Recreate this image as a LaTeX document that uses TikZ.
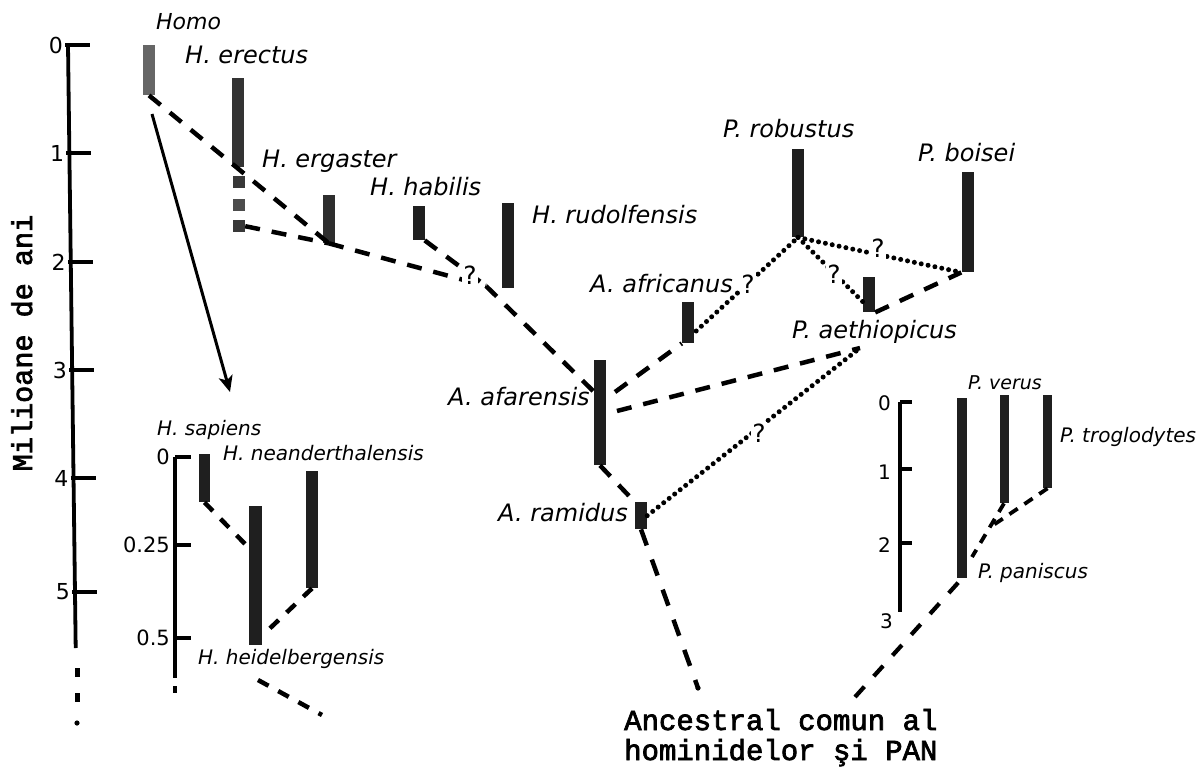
\documentclass[tikz,border=0pt]{standalone}
\usepackage{fontspec}
\setmainfont{DejaVu Sans}[ItalicFont={DejaVu Sans Oblique}]
\newfontfamily\typew{Liberation Mono}[FakeBold=2.5]
\usetikzlibrary{arrows.meta,calc}

\begin{document}
\begin{tikzpicture}[x=1pt,y=-1pt,
  bar/.style={fill=black!88, draw=none, inner sep=0pt, minimum width=12pt, anchor=north},
  lbl/.style={font=\fontsize{24}{28}\selectfont\itshape, anchor=west, inner sep=0pt},
  slbl/.style={font=\fontsize{20}{24}\selectfont\itshape, anchor=west, inner sep=0pt},
  num/.style={font=\fontsize{22}{26}\selectfont, anchor=east, inner sep=0pt},
  snum/.style={font=\fontsize{20}{24}\selectfont, anchor=east, inner sep=0pt},
  qmark/.style={font=\fontsize{25}{28}\selectfont, fill=white, inner sep=1.5pt},
  axisline/.style={line width=3.8pt},
  dashline/.style={line width=4.5pt, dash pattern=on 15pt off 12pt},
  sdash/.style={line width=3.8pt, dash pattern=on 10pt off 8pt},
  dotline/.style={line width=5pt, line cap=round, dash pattern=on 0pt off 7pt},
  tw/.style={font=\typew\fontsize{29}{30}\selectfont, inner sep=0pt}
]
\useasboundingbox (0,0) rectangle (1201,768);
\fill[white] (0,0) rectangle (1201,768);

% ---------- main time axis (millions of years) ----------
\draw[axisline] (68,45) -- (75.7,648);
\foreach \v/\y in {0/45,1/153,2/262,3/370,4/478,5/592}{
  \pgfmathsetmacro\ax{68+0.0128*(\y-45)}
  \draw[axisline] (\ax-3,\y) -- (\ax+22,\y);
  \node[num] (mt\v) at (\ax-5,\y) {\v};
}
\foreach \y in {668,693}{\fill (74.5,\y) rectangle (79.5,\y+9);}
\fill (77,723) circle (2.6pt);
\node[tw, font=\typew\fontsize{28.5}{30}\selectfont, rotate=90, anchor=base] (ylab) at (32,343) {Milioane de ani};

% ---------- Homo ----------
\node[bar, fill=black!60, minimum height=50pt] (homo) at (149,45) {};
\node[lbl, font=\fontsize{22}{26}\selectfont\itshape] (homolab) at (156,22) {Homo};
\node[bar, fill=black!80, minimum height=89pt] (erectus) at (238,78) {};
\node[lbl] (erectuslab) at (185,55) {H. erectus};
\node[bar, fill=black!78, minimum height=12pt] (ergA) at (239,176) {};
\node[bar, fill=black!70, minimum height=12pt] (ergB) at (239,199) {};
\node[bar, fill=black!78, minimum height=12pt] (ergC) at (239,220) {};
\node[lbl] (ergasterlab) at (262,161) {H. ergaster};
\node[bar, fill=black!82, minimum height=48pt] (ergbar) at (329,195) {};
\node[lbl] (habilislab) at (370,187) {H. habilis};
\node[bar, minimum height=34pt] (habilis) at (418.5,206) {};
\node[bar, minimum height=85pt] (rudolf) at (507.5,203) {};
\node[lbl] (rudolflab) at (532,215) {H. rudolfensis};

% ---------- Australopithecus ----------
\node[bar, minimum height=41pt] (africanus) at (688,302) {};
\node[lbl] (africanuslab) at (590,284) {A. africanus};
\node[bar, minimum height=105pt] (afarensis) at (600,360) {};
\node[lbl] (afarensislab) at (448,397) {A. afarensis};
\node[bar, minimum height=27pt] (ramidus) at (641,502) {};
\node[lbl] (ramiduslab) at (498,513) {A. ramidus};

% ---------- Paranthropus ----------
\node[bar, minimum height=88pt] (robustus) at (798,149) {};
\node[lbl] (robustuslab) at (723,129) {P. robustus};
\node[bar, minimum height=100pt] (boisei) at (967.5,172) {};
\node[lbl] (boiseilab) at (918,153) {P. boisei};
\node[bar, minimum height=35pt] (aethiop) at (869,277) {};
\node[lbl] (aethioplab) at (792,332) {P. aethiopicus};

% ---------- named junctions ----------
\coordinate (jH) at (486,286);
\coordinate (afTop) at ($(afarensis.north west)!0.3!(afarensis.south west)$);
\coordinate (afR1) at (615,392);
\coordinate (afR2) at (617,411);
\coordinate (aethJ) at (860,348);
\coordinate (afrR) at ($(africanus.north east)!0.7!(africanus.south east)+(2,0)$);
\coordinate (aethL) at ($(aethiop.north west)!0.7!(aethiop.south west)$);
\coordinate (ancL) at (698,688);
\coordinate (ancR) at (855,697);

% ---------- Homo lineages ----------
\draw[dashline] (homo.south) -- (ergbar.south);
\draw[dashline] (ergC.east) -- (ergbar.south);
\draw[dashline] (ergbar.south) -- (jH);
\draw[dashline] (habilis.south east) -- (jH);
\draw[dashline] (jH) -- (afTop);
\node[qmark] (q1) at (470,275) {?};

% ---------- Australopithecus lineages ----------
\draw[dashline] (afR1) -- (africanus.south west);
\draw[dashline] (afR2) -- (aethJ);
\draw[dashline] (afarensis.south) -- (ramidus.north west);
\draw[dashline, dash pattern=on 17pt off 15pt] (ramidus.south) -- (ancL);
\fill (ancL) circle (2.6pt);
\draw[dotline] (ramidus.east) -- (aethJ);
\node[qmark] (q5) at (759,433) {?};

% ---------- Paranthropus lineages ----------
\draw[dotline] (afrR) -- (robustus.south);
\node[qmark] (q2) at (748,284) {?};
\draw[dotline] (robustus.south) -- (boisei.south west);
\node[qmark] (q3) at (878,248) {?};
\draw[dotline] (robustus.south) -- (aethL);
\node[qmark] (q4) at (834,274) {?};
\draw[dashline] (aethiop.south east) -- (boisei.south west);

% ---------- arrow to the inset ----------
\coordinate (arrS) at (152,114);
\coordinate (arrE) at (230,392);
\draw[line width=3pt, -{Stealth[length=16pt,width=14pt,inset=4pt]}] (arrS) -- (arrE);

% ---------- inset: recent Homo ----------
\draw[axisline] (175,457) -- (175,678);
\draw[axisline] (175,686) -- (175,693);
\foreach \v/\y/\n in {0/457/a,0.25/545/b,0.5/638/c}{
  \draw[axisline] (175,\y) -- (191,\y);
  \node[snum, font=\fontsize{21}{24}\selectfont] (lt\n) at (170,\y) {\v};
}
\node[bar, minimum width=11pt, minimum height=48pt] (sapiens) at (204.5,454) {};
\node[slbl] (sapienslab) at (157,430) {H. sapiens};
\node[bar, minimum width=13pt, minimum height=139pt] (heidel) at (255.5,506) {};
\node[slbl] (heidellab) at (198,659) {H. heidelbergensis};
\node[bar, minimum height=117pt] (neander) at (312,471) {};
\node[slbl] (neanderlab) at (223,453) {H. neanderthalensis};
\coordinate (hL) at ($(heidel.north west)!0.3!(heidel.south west)$);
\coordinate (hR) at ($(heidel.north east)!0.93!(heidel.south east)$);
\coordinate (hb1) at (258,680);
\coordinate (hb2) at (322,715);
\draw[dashline, dash pattern=on 12pt off 11pt] (sapiens.south) -- (hL);
\draw[dashline, dash pattern=on 12pt off 11pt] (neander.south) -- (hR);
\draw[dashline, dash pattern=on 12pt off 11pt] (hb1) -- (hb2);

% ---------- inset: Pan ----------
\draw[axisline] (900,402) -- (900,612);
\foreach \v/\y/\ly in {0/402/403,1/469/472,2/543/545}{
  \draw[axisline] (900,\y) -- (912,\y);
  \node[snum] (rt\v) at (891,\ly) {\v};
}
\node[snum] (rt3) at (893,621) {3};
\node[bar, minimum width=10pt, minimum height=180pt] (paniscus) at (962,398) {};
\node[slbl] (paniscuslab) at (978,573) {P. paniscus};
\node[bar, minimum width=9pt, minimum height=108pt] (verus) at (1004,395) {};
\node[slbl, font=\fontsize{19}{22}\selectfont\itshape] (veruslab) at (968,383) {P. verus};
\node[bar, minimum width=9pt, minimum height=93pt] (troglo) at (1047.5,395) {};
\node[slbl] (troglolab) at (1060,437) {P. troglodytes};
\coordinate (pj) at (989,528);
\coordinate (pn) at (972,557);
\draw[sdash] (troglo.south) -- (pj);
\draw[sdash] (verus.south) -- (pn);
\draw[sdash, line width=4.2pt, dash pattern=on 14pt off 14pt] (ancR) -- (paniscus.south);

% ---------- common ancestor ----------
\node[tw, anchor=base west] (anc1) at (624,730) {Ancestral comun al};
\node[tw, anchor=base west] (anc2) at (624,760) {hominidelor şi PAN};
\end{tikzpicture}
\end{document}
